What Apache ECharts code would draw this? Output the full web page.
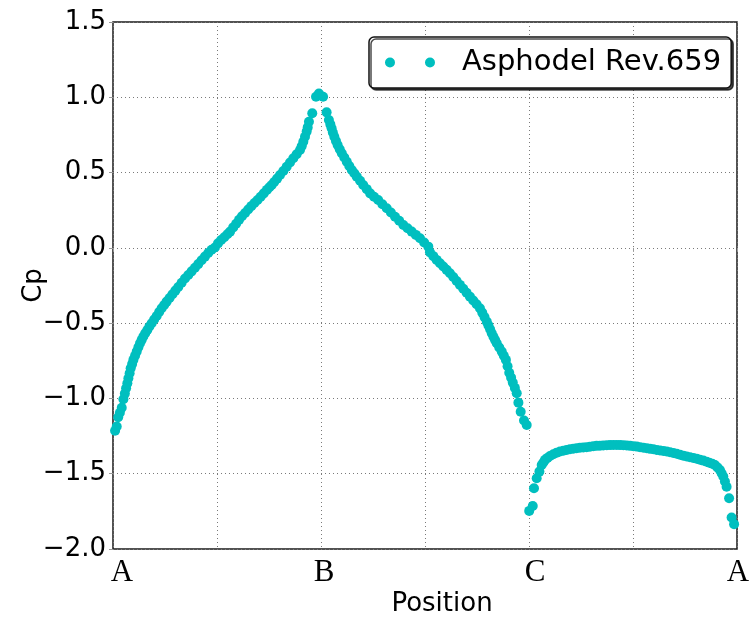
<!DOCTYPE html>
<html>
<head>
<meta charset="utf-8">
<script src="https://cdn.jsdelivr.net/npm/echarts@6/dist/echarts.min.js"></script>
<style>html,body{margin:0;padding:0;background:#fff;}#chart{width:752px;height:621px;}</style>
</head>
<body>
<div id="chart"></div>
<script>
// Position along the contour (A=0, B=1, C=2, back to A=3) and pressure coefficient Cp
const segmentAB = [
[0.010,-1.215],[0.018,-1.187],[0.025,-1.125],[0.033,-1.095],[0.042,-1.062],[0.050,-1.005],[0.057,-0.968],
[0.063,-0.932],[0.069,-0.900],[0.074,-0.866],[0.080,-0.833],[0.085,-0.800],[0.092,-0.772],[0.098,-0.744],
[0.106,-0.716],[0.114,-0.689],[0.122,-0.660],[0.130,-0.633],[0.138,-0.611],[0.146,-0.589],[0.155,-0.567],
[0.165,-0.545],[0.175,-0.522],[0.186,-0.501],[0.198,-0.476],[0.210,-0.452],[0.222,-0.426],[0.234,-0.401],
[0.246,-0.379],[0.258,-0.357],[0.272,-0.333],[0.286,-0.308],[0.300,-0.284],[0.314,-0.260],[0.330,-0.232],
[0.346,-0.204],[0.362,-0.180],[0.378,-0.156],[0.394,-0.132],[0.410,-0.108],[0.426,-0.082],[0.442,-0.058],
[0.458,-0.034],[0.474,-0.012],[0.490,0.002],[0.505,0.030],[0.520,0.052],[0.535,0.070],[0.550,0.090],
[0.563,0.108],[0.578,0.136],[0.592,0.160],[0.606,0.186],[0.620,0.210],[0.635,0.232],[0.650,0.255],
[0.665,0.277],[0.680,0.298],[0.695,0.318],[0.710,0.340],[0.725,0.362],[0.740,0.385],[0.752,0.402],
[0.763,0.418],[0.775,0.437],[0.789,0.460],[0.803,0.484],[0.819,0.510],[0.835,0.539],[0.851,0.567],
[0.867,0.595],[0.883,0.622],[0.899,0.650],[0.907,0.675],[0.915,0.705],[0.923,0.738],[0.931,0.772],
[0.936,0.800],[0.942,0.838],[0.958,0.894],[0.976,1.004],[0.990,1.025],[1.010,1.004]
];
const segmentBC = [
[1.027,0.900],[1.038,0.849],[1.045,0.820],[1.051,0.794],[1.057,0.766],[1.064,0.738],[1.072,0.710],
[1.080,0.683],[1.090,0.655],[1.100,0.628],[1.112,0.600],[1.124,0.572],[1.136,0.544],[1.148,0.517],
[1.160,0.495],[1.172,0.473],[1.188,0.446],[1.203,0.418],[1.220,0.390],[1.236,0.362],[1.255,0.340],
[1.275,0.318],[1.295,0.290],[1.316,0.263],[1.336,0.235],[1.356,0.207],[1.376,0.180],[1.396,0.152],
[1.416,0.130],[1.436,0.108],[1.456,0.086],[1.476,0.064],[1.496,0.036],[1.516,0.008],[1.524,-0.030],
[1.540,-0.055],[1.556,-0.080],[1.572,-0.102],[1.588,-0.124],[1.604,-0.146],[1.620,-0.169],[1.636,-0.194],
[1.652,-0.220],[1.668,-0.246],[1.684,-0.272],[1.700,-0.298],[1.716,-0.324],[1.732,-0.350],[1.748,-0.375],
[1.764,-0.401],[1.775,-0.430],[1.786,-0.460],[1.797,-0.490],[1.805,-0.515],[1.813,-0.541],[1.821,-0.567],
[1.829,-0.590],[1.837,-0.612],[1.845,-0.634],[1.857,-0.662],[1.869,-0.689],[1.879,-0.716],[1.889,-0.744],
[1.897,-0.786],[1.905,-0.829],[1.914,-0.862],[1.922,-0.895],[1.932,-0.930],[1.941,-0.966],[1.949,-1.028],
[1.960,-1.088],[1.976,-1.147],[1.989,-1.176]
];
const segmentCA = [
[2.001,-1.747],[2.018,-1.714],[2.024,-1.596],[2.037,-1.530],[2.050,-1.486],[2.061,-1.442],[2.069,-1.425],
[2.077,-1.408],[2.089,-1.395],[2.101,-1.382],[2.117,-1.371],[2.133,-1.360],[2.149,-1.353],[2.165,-1.347],
[2.181,-1.342],[2.197,-1.338],[2.213,-1.334],[2.229,-1.331],[2.245,-1.328],[2.261,-1.326],[2.277,-1.324],
[2.293,-1.321],[2.309,-1.318],[2.325,-1.315],[2.341,-1.314],[2.357,-1.312],[2.374,-1.311],[2.390,-1.310],
[2.406,-1.309],[2.422,-1.309],[2.438,-1.310],[2.454,-1.311],[2.470,-1.313],[2.486,-1.315],[2.502,-1.317],
[2.518,-1.320],[2.534,-1.324],[2.550,-1.327],[2.566,-1.331],[2.582,-1.335],[2.598,-1.338],[2.614,-1.342],
[2.630,-1.346],[2.646,-1.349],[2.662,-1.353],[2.678,-1.358],[2.694,-1.363],[2.710,-1.368],[2.726,-1.374],
[2.742,-1.380],[2.758,-1.386],[2.774,-1.391],[2.790,-1.396],[2.806,-1.400],[2.822,-1.407],[2.838,-1.413],
[2.854,-1.420],[2.867,-1.427],[2.881,-1.434],[2.894,-1.442],[2.906,-1.458],[2.918,-1.475],[2.926,-1.497],
[2.934,-1.519],[2.942,-1.552],[2.950,-1.586],[2.962,-1.663],[2.974,-1.791],[2.986,-1.835]
];
const xTickLabels = ['A', 'B', 'C', 'A'];   // at positions 0, 1, 2, 3
const seriesName = 'Asphodel Rev.659';

const chart = echarts.init(document.getElementById('chart'), null, {renderer: 'canvas'});
const gridColor = '#7a7a7a';
const labelShift = ['s0', 's1', 's2', 's3'];
chart.setOption({
  animation: false,
  backgroundColor: '#fff',
  grid: {left: 113, right: 15, top: 22, bottom: 72, containLabel: false, outerBoundsMode: 'none',
         show: true, borderColor: '#1a1a1a', borderWidth: 1.5, backgroundColor: 'transparent'},
  legend: {
    show: true,
    left: 369, top: 37,
    padding: [11, 10, 11, 16],
    backgroundColor: '#fff',
    borderColor: '#111', borderWidth: 1.5, borderRadius: 5,
    shadowColor: 'rgba(0,0,0,0.7)', shadowOffsetX: 2, shadowOffsetY: 2, shadowBlur: 0,
    itemWidth: 50, itemHeight: 10,
    icon: 'path://M0,5a5,5 0 1,0 10,0a5,5 0 1,0 -10,0 M40,5a5,5 0 1,0 10,0a5,5 0 1,0 -10,0',
    textStyle: {fontFamily: 'DejaVu Sans', fontSize: 29, color: '#000', padding: [0, 0, 0, 22]},
    data: [seriesName]
  },
  xAxis: {
    type: 'value', min: 0, max: 3, interval: 0.5,
    name: 'Position', nameLocation: 'middle', nameGap: 42, nameMoveOverlap: false,
    nameTextStyle: {fontFamily: 'DejaVu Sans', fontSize: 26, color: '#000', padding: [0, 0, 0, 34]},
    axisLine: {show: false},
    axisTick: {show: true, inside: false, length: 4, lineStyle: {color: '#999'}},
    axisLabel: {
      margin: 8, fontFamily: 'Liberation Serif', fontSize: 31, color: '#000',
      showMinLabel: true, showMaxLabel: true,
      formatter: function (v) {
        const i = Math.round(v);
        return Math.abs(v - i) < 1e-6 ? '{' + labelShift[i] + '|' + xTickLabels[i] + '}' : '';
      },
      rich: {
        s0: {fontFamily: 'Liberation Serif', fontSize: 31, color: '#000', padding: [0, 0, 0, 18]},
        s1: {fontFamily: 'Liberation Serif', fontSize: 31, color: '#000', padding: [0, 0, 0, 6]},
        s2: {fontFamily: 'Liberation Serif', fontSize: 31, color: '#000', padding: [0, 0, 0, 12]},
        s3: {fontFamily: 'Liberation Serif', fontSize: 31, color: '#000', padding: [0, 0, 0, 2]}
      }
    },
    splitLine: {show: true, lineStyle: {color: gridColor, type: [1, 3], width: 1}}
  },
  yAxis: {
    type: 'value', min: -2, max: 1.5, interval: 0.5,
    name: 'Cp', nameLocation: 'middle', nameGap: 66, nameMoveOverlap: false,
    nameTextStyle: {fontFamily: 'DejaVu Sans', fontSize: 26, color: '#000'},
    axisLine: {show: false},
    axisTick: {show: true, inside: false, length: 4, lineStyle: {color: '#999'}},
    axisLabel: {
      margin: 7, fontFamily: 'DejaVu Sans', fontSize: 26, color: '#000',
      formatter: function (v) { return v.toFixed(1).replace('-', '\u2212'); }
    },
    splitLine: {show: true, lineStyle: {color: gridColor, type: [1, 3], width: 1}}
  },
  series: [{
    name: seriesName,
    type: 'scatter',
    symbol: 'circle',
    symbolSize: 10,
    itemStyle: {color: '#00BFBF', opacity: 1},
    data: segmentAB.concat(segmentBC, segmentCA)
  }]
});
</script>
</body>
</html>
